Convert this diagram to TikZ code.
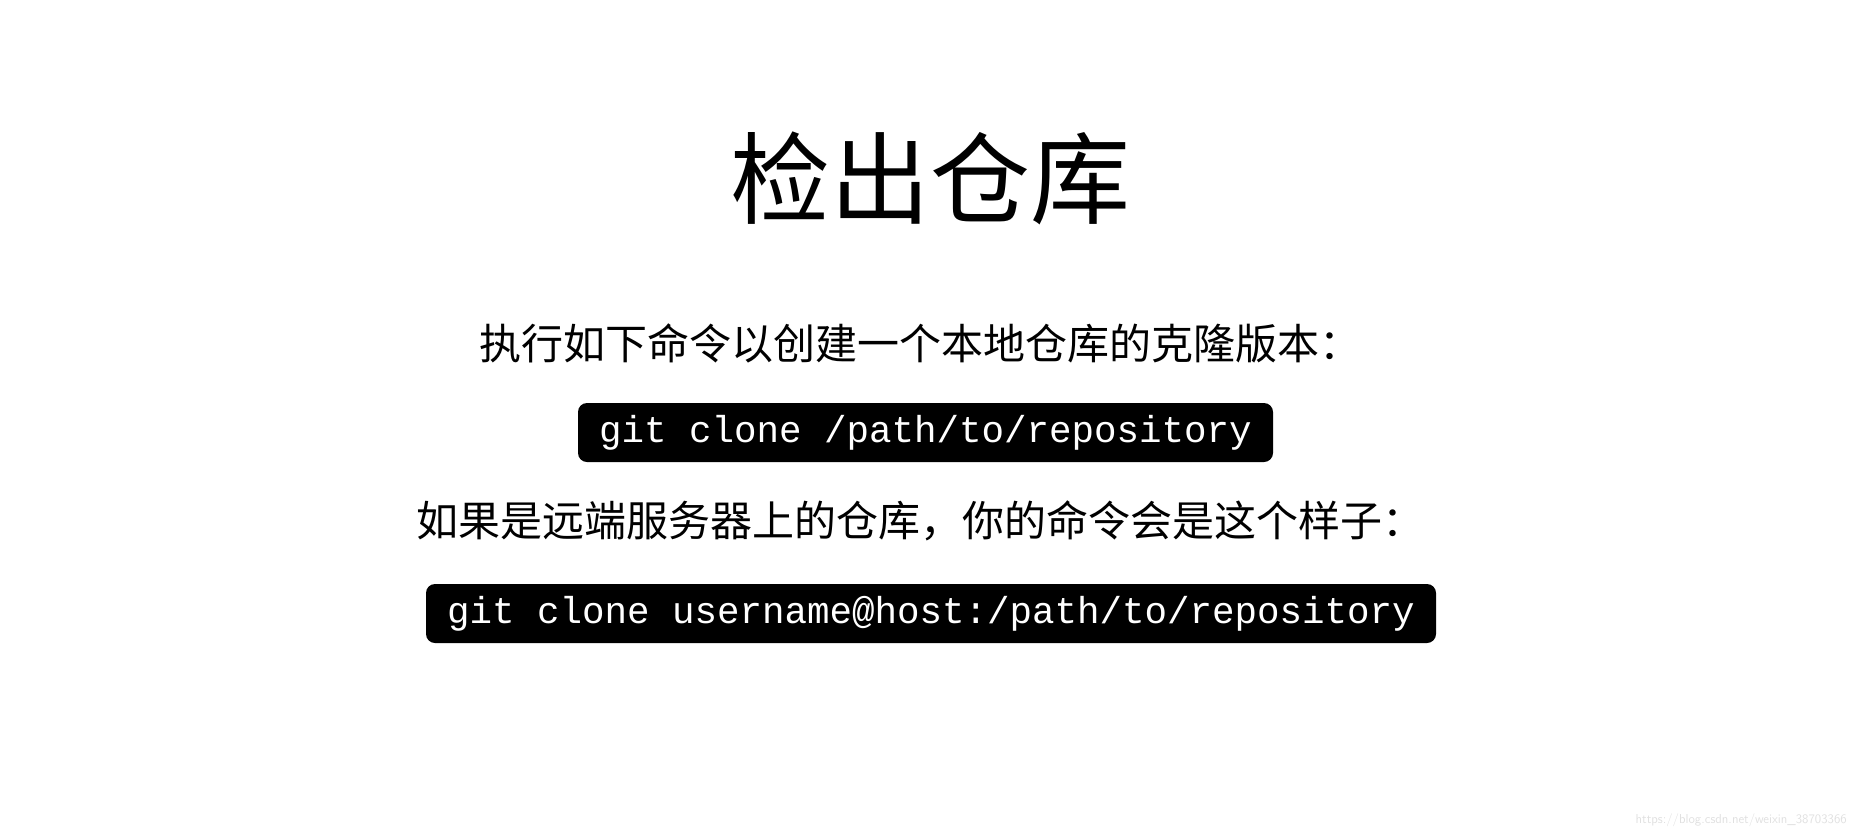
\documentclass[tikz,border=0pt]{standalone}
\usepackage{fontspec}
\newfontfamily\cjk{Noto Sans CJK SC}
\setmonofont{Liberation Mono}
\begin{document}
\begin{tikzpicture}[x=1pt,y=-1pt,
  cjktext/.style={inner sep=0pt,font=\cjk\fontsize{42}{48}\selectfont},
  codebox/.style={fill=black,text=white,rounded corners=9pt,inner sep=0pt,font=\ttfamily\fontsize{37.5}{44}\selectfont}]
\useasboundingbox (0,0) rectangle (1857,838);
\node[inner sep=0pt,font=\cjk\fontsize{100}{110}\selectfont] (title) at (930,178) {检出仓库};
\node[cjktext] (l1) at (920,343) {执行如下命令以创建一个本地仓库的克隆版本：};
\node[codebox,minimum width=695pt,minimum height=59pt] (c1) at (925.5,432.5) {git clone /path/to/repository};
\node[cjktext] (l2) at (920,521) {如果是远端服务器上的仓库，你的命令会是这个样子：};
\node[codebox,minimum width=1010pt,minimum height=59pt] (c2) at (931,613.5) {git clone username@host:/path/to/repository};
\node[inner sep=0pt,text=black!12,font=\sffamily\fontsize{13}{15}\selectfont,anchor=east] (wm) at (1847,820) {https://blog.csdn.net/weixin\_38703366};
\end{tikzpicture}
\end{document}
